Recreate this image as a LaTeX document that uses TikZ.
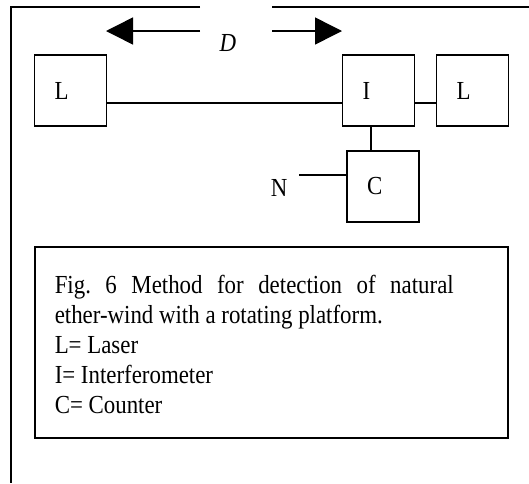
\documentclass[tikz,border=0pt]{standalone}
\usepackage{fontspec}
\setmainfont{Liberation Serif}[FakeStretch=0.88]
\usetikzlibrary{positioning,arrows.meta}
\frenchspacing

\begin{document}
\begin{tikzpicture}[x=1pt,y=-1pt,line width=1.5pt,
  font=\fontsize{26}{30}\selectfont,
  unit/.style={draw,minimum width=72pt,minimum height=71pt,inner xsep=20pt,
    inner ysep=0pt,text width=32pt,align=left,outer sep=0pt},
  dir/.style={-{Triangle[length=27pt,width=27pt]}}]
\useasboundingbox (0,0) rectangle (529,483);
% frame, open round D
\coordinate (gl) at (200,7);
\coordinate (gr) at (272,7);
\draw (gl) -- (11,7) -- (11,483);
\draw (gr) -- (529,7);
\coordinate (al) at (200,31);
\coordinate (ar) at (272,31);
\coordinate (tl) at (106,31);
\coordinate (tr) at (342,31);
\node (d1) at (228,43.3) {\textit{D}};
\node[unit] (l1) at (70.5,90.5) {L};
\node[unit, right=236pt of l1] (i1) {I};
\node[unit, right=22pt of i1] (l2) {L};
\node[unit, below=25pt of i1, xshift=4.5pt] (c1) {C};
\node[anchor=base west,inner sep=0pt] (n1) at (270,196) {N};
\coordinate (n1e) at (299,175);
\draw[dir] (al) -- (tl);
\draw[dir] (ar) -- (tr);
\draw ([yshift=-12.5pt]l1.east) -- ([yshift=-12.5pt]i1.west);
\draw ([yshift=-12.5pt]i1.east) -- ([yshift=-12.5pt]l2.west);
\draw ([xshift=-7.5pt]i1.south) -- ([xshift=-12pt]c1.north);
\draw (n1e) -- ([yshift=11.5pt]c1.west);
% caption (base is the last line)
\node[draw,minimum width=473pt,minimum height=191pt,outer sep=0pt] (capbox) at (271.5,342.5) {};
\node[anchor=base west,inner sep=0pt,align=left] (captext) at ([xshift=19pt,yshift=-166pt]capbox.north west)
  {\makebox[399pt][s]{Fig.\ 6 Method for detection of natural}\\ether-wind with a rotating platform.\\L= Laser\\I= Interferometer\\C= Counter};
\end{tikzpicture}
\end{document}
